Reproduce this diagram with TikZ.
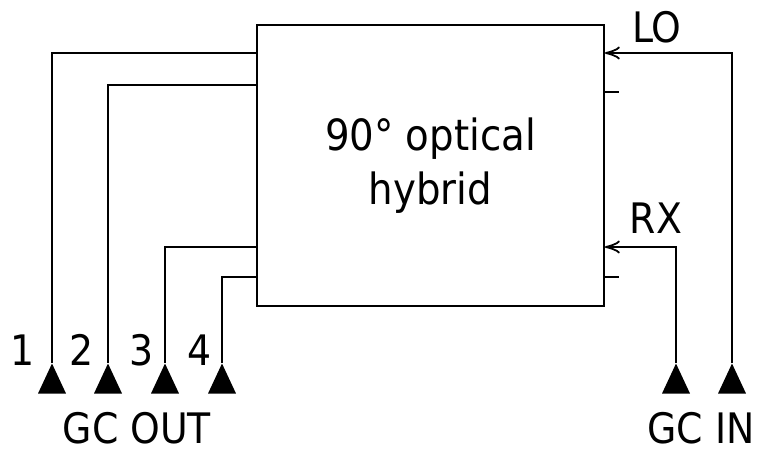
\documentclass[tikz,border=0pt]{standalone}
\usepackage{fontspec}
\setmainfont{DejaVu Sans Condensed}
\usetikzlibrary{arrows.meta,shapes.geometric}
\begin{document}
\begin{tikzpicture}[x=1pt,y=-1pt,
  wire/.style={line width=1.8pt},
  gc/.style={isosceles triangle, shape border rotate=90, fill=black, draw=none,
    minimum height=30pt, minimum width=28pt, inner sep=0pt, isosceles triangle stretches},
  lbl/.style={font=\fontsize{42}{50}\selectfont, inner sep=0pt, anchor=base},
  inarrow/.style={wire, -{Classical TikZ Rightarrow[length=15pt,width=13pt,line width=1.8pt]}}]
\useasboundingbox (0,0) rectangle (757,450);
\node[draw, line width=1.8pt, minimum width=347pt, minimum height=281pt, inner sep=0pt,
  align=center, font=\fontsize{43}{54}\selectfont] (hyb) at (430.5,165.5) {90° optical\\hybrid};
% triangles (grating couplers)
\node[gc, anchor=apex] (t1) at (52,363) {};
\node[gc, anchor=apex] (t2) at (108,363) {};
\node[gc, anchor=apex] (t3) at (165,363) {};
\node[gc, anchor=apex] (t4) at (222,363) {};
\node[gc, anchor=apex] (t5) at (676,363) {};
\node[gc, anchor=apex] (t6) at (732,363) {};
% port coordinates on the box
\coordinate (o1) at (hyb.west |- 0,53);
\coordinate (o2) at (hyb.west |- 0,85);
\coordinate (o3) at (hyb.west |- 0,247);
\coordinate (o4) at (hyb.west |- 0,277);
\coordinate (iLO) at (hyb.east |- 0,53);
\coordinate (iRX) at (hyb.east |- 0,247);
\coordinate (s1) at (hyb.east |- 0,92);
\coordinate (s1e) at (619,92);
\coordinate (s2) at (hyb.east |- 0,277);
\coordinate (s2e) at (619,277);
% outputs
\draw[wire] (o1) -| (t1.apex);
\draw[wire] (o2) -| (t2.apex);
\draw[wire] (o3) -| (t3.apex);
\draw[wire] (o4) -| (t4.apex);
% inputs
\draw[inarrow] (t6.apex) |- (iLO);
\draw[inarrow] (t5.apex) |- (iRX);
% unused port stubs
\draw[wire] (s1) -- (s1e);
\draw[wire] (s2) -- (s2e);
% labels
\node[lbl] (n1) at (23,365) {1};
\node[lbl] (n2) at (82,365) {2};
\node[lbl] (n3) at (142,365) {3};
\node[lbl] (n4) at (200,365) {4};
\node[lbl] (gco) at (137,443) {GC OUT};
\node[lbl] (gci) at (701,443) {GC IN};
\node[lbl] (lo) at (657,42) {LO};
\node[lbl] (rx) at (656,233) {RX};
\end{tikzpicture}
\end{document}
